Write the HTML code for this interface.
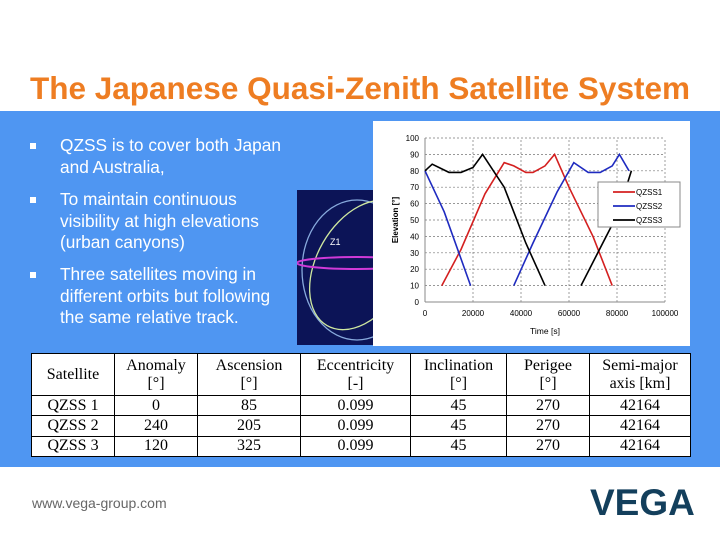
<!DOCTYPE html>
<html><head><meta charset="utf-8"><style>
body{margin:0;width:720px;height:540px;background:#fff;position:relative;overflow:hidden;font-family:"Liberation Sans",sans-serif}
#title{position:absolute;left:30px;top:70px;font-size:31.5px;font-weight:bold;color:#ee7d22;white-space:nowrap}
#band{position:absolute;left:0;top:111px;width:720px;height:356px;background:#4f96f2}
.b{position:absolute;left:60px;color:#fff;font-size:17.3px;line-height:21.5px;width:235px}
.b:before{content:"";position:absolute;left:-30px;top:8px;width:6px;height:6px;background:#fff}
#orbit{position:absolute;left:297px;top:190px;width:80px;height:155px;background:#0c1457;overflow:hidden}
#chart{position:absolute;left:373px;top:121px}
table{position:absolute;left:31px;top:353px;width:660px;height:104px;border-collapse:collapse;background:#fff;font-family:"Liberation Serif",serif;font-size:16px;text-align:center}
td{border:1px solid #000;padding:0;line-height:18px}
#url{position:absolute;left:32px;top:495px;font-size:14px;color:#666}
#logo{position:absolute;left:590px;top:482px;font-size:37px;font-weight:bold;color:#133f5c;letter-spacing:0px}
</style></head><body>
<div id="title">The Japanese Quasi-Zenith Satellite System</div>
<div id="band"></div>
<div class="b" style="top:135px">QZSS is to cover both Japan and Australia,</div>
<div class="b" style="top:189px;width:215px">To maintain continuous visibility at high elevations (urban canyons)</div>
<div class="b" style="top:264px;width:228px">Three satellites moving in different orbits but following the same relative track.</div>
<div id="orbit">
<svg width="80" height="155"><ellipse cx="60" cy="80" rx="55" ry="70" fill="none" stroke="#8ad" stroke-width="1.3"/><ellipse cx="65" cy="75" rx="45" ry="70" fill="none" stroke="#cfe8a0" stroke-width="1.3" transform="rotate(30 65 75)"/><ellipse cx="60" cy="73" rx="60" ry="6" fill="none" stroke="#d03ad8" stroke-width="2"/><text x="33" y="55" fill="#fff" font-size="9">Z1</text></svg></div>
<svg id="chart" width="317" height="225"></svg>
<table>
<tr style="height:42px"><td style="width:82px">Satellite</td><td style="width:82px">Anomaly<br>[°]</td><td style="width:102px">Ascension<br>[°]</td><td style="width:109px">Eccentricity<br>[-]</td><td style="width:95px">Inclination<br>[°]</td><td style="width:82px">Perigee<br>[°]</td><td>Semi-major<br>axis [km]</td></tr>
<tr><td>QZSS 1</td><td>0</td><td>85</td><td>0.099</td><td>45</td><td>270</td><td>42164</td></tr>
<tr><td>QZSS 2</td><td>240</td><td>205</td><td>0.099</td><td>45</td><td>270</td><td>42164</td></tr>
<tr><td>QZSS 3</td><td>120</td><td>325</td><td>0.099</td><td>45</td><td>270</td><td>42164</td></tr>
</table>
<div id="url">www.vega-group.com</div>
<div id="logo">VEGA</div>
<script>
const xTicks=[0,20000,40000,60000,80000,100000];
const yTicks=[0,10,20,30,40,50,60,70,80,90,100];
const seriesNames=["QZSS1","QZSS2","QZSS3"];
const seriesColors=["#d42020","#1f2bc0","#000"];
const q1t=[7000,15000,25000,33000,37000,42000,45000,50000,54000,60000,70000,78000];
const q1v=[10,32,66,85,83,79,79,83,90,70,40,10];
const q2t=[0,8000,19000,null,37000,45000,55000,62000,68000,73000,78000,81000,85000];
const q2v=[80,55,10,null,10,36,67,85,79,79,83,90,80];
const q3t=[0,3000,10000,15000,20000,24000,33000,42000,50000,null,65000,72000,79000,83000,86000];
const q3v=[80,84,79,79,82,90,70,36,10,null,10,30,50,66,80];
const svg=document.getElementById('chart');const NS='http://www.w3.org/2000/svg';
function X(t){return 52+t/100000*240}
function Y(v){return 181-v*1.64}
function el(tag,a,txt){const e=document.createElementNS(NS,tag);for(const k in a)e.setAttribute(k,a[k]);if(txt!=null)e.textContent=txt;svg.appendChild(e);return e}
el('rect',{x:0,y:0,width:317,height:225,fill:'#fff'});
yTicks.forEach(v=>{if(v>0){const g=el('line',{x1:X(0),x2:X(100000),y1:Y(v),y2:Y(v),stroke:'#777','stroke-dasharray':'2,2','stroke-width':0.7});}
const t=el('text',{x:X(0)-6,y:Y(v)+3,'font-size':8,'text-anchor':'end'},v);});
xTicks.forEach(v=>{if(v>0){const g=el('line',{x1:X(v),x2:X(v),y1:Y(0),y2:Y(100),stroke:'#777','stroke-dasharray':'2,2','stroke-width':0.7});}
const t=el('text',{x:X(v),y:Y(0)+14,'font-size':8,'text-anchor':'middle'},v);});
el('line',{x1:X(0),x2:X(0),y1:Y(0),y2:Y(100),stroke:'#888'});el('line',{x1:X(0),x2:X(100000),y1:Y(0),y2:Y(0),stroke:'#888'});
const xt=el('text',{x:X(50000),y:213,'font-size':8.5,'text-anchor':'middle'},'Time [s]');
const yt=el('text',{x:0,y:0,'font-size':8,'font-weight':'bold','text-anchor':'middle',transform:'translate(25,'+Y(50)+') rotate(-90)'},'Elevation [°]');
function path(ts,vs){let d='',m=true;ts.forEach((t,i)=>{if(t==null){m=true;return}d+=(m?'M':'L')+X(t).toFixed(1)+','+Y(vs[i]).toFixed(1);m=false});return d}
[[q1t,q1v],[q2t,q2v],[q3t,q3v]].forEach((s,i)=>{const p=el('path',{d:path(s[0],s[1]),fill:'none',stroke:seriesColors[i],'stroke-width':1.6});});
const lg=el('rect',{x:225,y:61,width:82,height:45,fill:'#fff',stroke:'#888'});
seriesNames.forEach((n,i)=>{const y=71+i*14;el('line',{x1:240,x2:262,y1:y,y2:y,stroke:seriesColors[i],'stroke-width':1.8});const t=el('text',{x:263,y:y+3,'font-size':8},n);});
</script>
</body></html>
